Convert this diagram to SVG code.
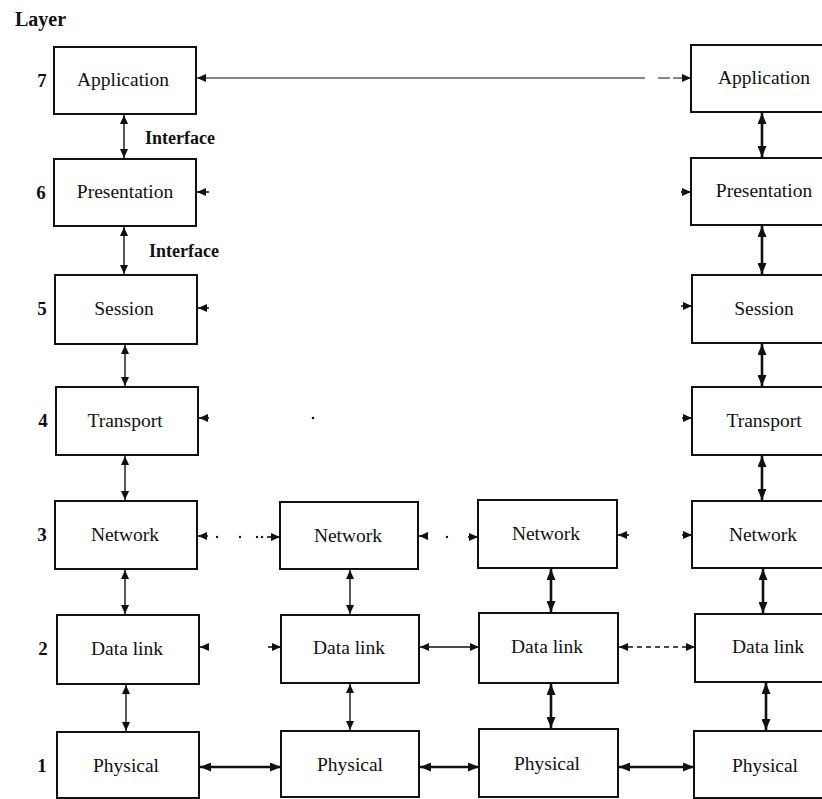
<svg xmlns="http://www.w3.org/2000/svg" width="822" height="799" viewBox="0 0 822 799">
  <defs>
    <marker id="ah" markerUnits="userSpaceOnUse" markerWidth="9" markerHeight="8" refX="9" refY="4" orient="auto-start-reverse">
      <path d="M0,0 L9,4 L0,8 z" fill="#111"/>
    </marker>
    <marker id="ahb" markerUnits="userSpaceOnUse" markerWidth="11" markerHeight="9" refX="11" refY="4.5" orient="auto-start-reverse">
      <path d="M0,0 L11,4.5 L0,9 z" fill="#111"/>
    </marker>
  </defs>
  <style>
    .box { fill: #fff; stroke: #111; stroke-width: 2; }
    .lbl { font-family: "Liberation Serif", "Times New Roman", serif; font-size: 19.5px; fill: #111; text-anchor: middle; }
    .num { font-family: "Liberation Serif", "Times New Roman", serif; font-size: 19px; font-weight: bold; fill: #111; text-anchor: middle; }
    .note { font-family: "Liberation Serif", "Times New Roman", serif; font-size: 18px; font-weight: bold; fill: #111; }
    .thin { stroke: #111; stroke-width: 1.4; fill: none; marker-start: url(#ah); marker-end: url(#ah); }
    .thick { stroke: #111; stroke-width: 2.6; fill: none; marker-start: url(#ahb); marker-end: url(#ahb); }
    .stub { stroke: #111; stroke-width: 1.6; fill: none; marker-end: url(#ah); }
    .dash { stroke-dasharray: 5 4; }
  </style>

  <rect width="822" height="799" fill="#fff"/>

  <!-- layer axis -->
  <text class="note" x="15" y="26" style="font-size:20px">Layer</text>
  <g id="layer-numbers">
    <text class="num" x="42" y="87">7</text>
    <text class="num" x="41" y="199">6</text>
    <text class="num" x="42" y="315">5</text>
    <text class="num" x="43" y="427">4</text>
    <text class="num" x="42" y="541">3</text>
    <text class="num" x="43" y="655">2</text>
    <text class="num" x="42" y="772">1</text>
  </g>

  <!-- end system A (left) -->
  <g id="a-application"><rect class="box" x="54" y="47" width="142" height="67"/><text class="lbl" x="123" y="86">Application</text></g>
  <g id="a-presentation"><rect class="box" x="54" y="159" width="142" height="67"/><text class="lbl" x="125" y="198">Presentation</text></g>
  <g id="a-session"><rect class="box" x="55" y="275" width="142" height="69"/><text class="lbl" x="124" y="315">Session</text></g>
  <g id="a-transport"><rect class="box" x="56" y="387" width="142" height="68"/><text class="lbl" x="125" y="427">Transport</text></g>
  <g id="a-network"><rect class="box" x="55" y="501" width="142" height="68"/><text class="lbl" x="125" y="541">Network</text></g>
  <g id="a-datalink"><rect class="box" x="57" y="615" width="142" height="69"/><text class="lbl" x="127" y="655">Data link</text></g>
  <g id="a-physical"><rect class="box" x="57" y="732" width="142" height="66"/><text class="lbl" x="126" y="772">Physical</text></g>

  <!-- intermediate node 1 -->
  <g id="b-network"><rect class="box" x="280" y="502" width="138" height="67"/><text class="lbl" x="348" y="542">Network</text></g>
  <g id="b-datalink"><rect class="box" x="281" y="615" width="138" height="68"/><text class="lbl" x="349" y="654">Data link</text></g>
  <g id="b-physical"><rect class="box" x="281" y="731" width="138" height="66"/><text class="lbl" x="350" y="771">Physical</text></g>

  <!-- intermediate node 2 -->
  <g id="c-network"><rect class="box" x="478" y="500" width="139" height="68"/><text class="lbl" x="546" y="540">Network</text></g>
  <g id="c-datalink"><rect class="box" x="479" y="613" width="139" height="70"/><text class="lbl" x="547" y="653">Data link</text></g>
  <g id="c-physical"><rect class="box" x="479" y="729" width="139" height="68"/><text class="lbl" x="547" y="770">Physical</text></g>

  <!-- end system B (right) -->
  <g id="d-application"><rect class="box" x="691" y="45" width="142" height="67"/><text class="lbl" x="764" y="84">Application</text></g>
  <g id="d-presentation"><rect class="box" x="691" y="158" width="142" height="67"/><text class="lbl" x="764" y="197">Presentation</text></g>
  <g id="d-session"><rect class="box" x="692" y="275" width="142" height="68"/><text class="lbl" x="764" y="315">Session</text></g>
  <g id="d-transport"><rect class="box" x="692" y="387" width="142" height="68"/><text class="lbl" x="764" y="427">Transport</text></g>
  <g id="d-network"><rect class="box" x="692" y="501" width="142" height="67"/><text class="lbl" x="763" y="541">Network</text></g>
  <g id="d-datalink"><rect class="box" x="695" y="614" width="142" height="68"/><text class="lbl" x="768" y="653">Data link</text></g>
  <g id="d-physical"><rect class="box" x="694" y="731" width="142" height="67"/><text class="lbl" x="765" y="772">Physical</text></g>

  <!-- interface labels -->
  <text class="note" x="145" y="144">Interface</text>
  <text class="note" x="149" y="257">Interface</text>

  <g id="connectors">
    <!-- vertical interfaces, system A -->
    <line class="thin" x1="124" y1="115" x2="124" y2="158"/>
    <line class="thin" x1="124" y1="227" x2="124" y2="274"/>
    <line class="thin" x1="125" y1="345" x2="125" y2="386"/>
    <line class="thin" x1="125" y1="456" x2="125" y2="500"/>
    <line class="thin" x1="125" y1="570" x2="125" y2="614"/>
    <line class="thin" x1="126" y1="685" x2="126" y2="731"/>
    <!-- vertical interfaces, node 1 -->
    <line class="thin" x1="350" y1="570" x2="350" y2="614"/>
    <line class="thin" x1="350" y1="684" x2="350" y2="730"/>
    <!-- vertical interfaces, node 2 -->
    <line class="thick" x1="551" y1="569" x2="551" y2="612"/>
    <line class="thick" x1="551" y1="684" x2="551" y2="728"/>
    <!-- vertical interfaces, system B -->
    <line class="thick" x1="762" y1="113" x2="762" y2="157"/>
    <line class="thick" x1="762" y1="226" x2="762" y2="274"/>
    <line class="thick" x1="762" y1="344" x2="762" y2="386"/>
    <line class="thick" x1="762" y1="456" x2="762" y2="500"/>
    <line class="thick" x1="763" y1="569" x2="763" y2="613"/>
    <line class="thick" x1="766" y1="683" x2="766" y2="730"/>

    <!-- layer 7 peer protocol -->
    <line x1="197" y1="78" x2="645" y2="78" stroke="#111" stroke-width="1.2" marker-start="url(#ah)"/>
    <line x1="658" y1="78" x2="691" y2="78" stroke="#111" stroke-width="1.2" stroke-dasharray="12 3" marker-end="url(#ah)"/>

    <!-- layers 6, 5, 4 peer protocol stubs -->
    <line class="stub" x1="209" y1="192" x2="197" y2="192"/>
    <line class="stub" x1="681" y1="192" x2="691" y2="192"/>
    <line class="stub" x1="209" y1="308" x2="198" y2="308"/>
    <line class="stub" x1="681" y1="306" x2="692" y2="306"/>
    <line class="stub" x1="209" y1="418" x2="199" y2="418"/>
    <line class="stub" x1="682" y1="418" x2="692" y2="418"/>
    <circle cx="313" cy="418" r="1.3" fill="#111"/>

    <!-- layer 3 peer protocol -->
    <line class="stub" x1="208" y1="536" x2="198" y2="536"/>
    <circle cx="217" cy="537" r="1.2" fill="#111"/>
    <circle cx="240" cy="537" r="1.2" fill="#111"/>
    <circle cx="257" cy="537" r="1.2" fill="#111"/>
    <circle cx="262" cy="537" r="1.2" fill="#111"/>
    <line class="stub" x1="267" y1="537" x2="280" y2="537"/>
    <line class="stub" x1="428" y1="536" x2="419" y2="536"/>
    <circle cx="447" cy="537" r="1.2" fill="#111"/>
    <line class="stub" x1="468" y1="537" x2="478" y2="537"/>
    <line class="stub" x1="629" y1="535" x2="618" y2="535"/>
    <line class="stub" x1="682" y1="535" x2="692" y2="535"/>

    <!-- layer 2 peer protocol -->
    <line class="stub" x1="209" y1="647" x2="200" y2="647"/>
    <line class="stub" x1="268" y1="647" x2="281" y2="647"/>
    <line class="thin" x1="420" y1="647" x2="479" y2="647"/>
    <line class="thin dash" x1="619" y1="647" x2="695" y2="647"/>

    <!-- layer 1 physical medium -->
    <line class="thick" x1="200" y1="767" x2="281" y2="767"/>
    <line class="thick" x1="420" y1="767" x2="479" y2="767"/>
    <line class="thick" x1="619" y1="767" x2="694" y2="767"/>
  </g>
</svg>
